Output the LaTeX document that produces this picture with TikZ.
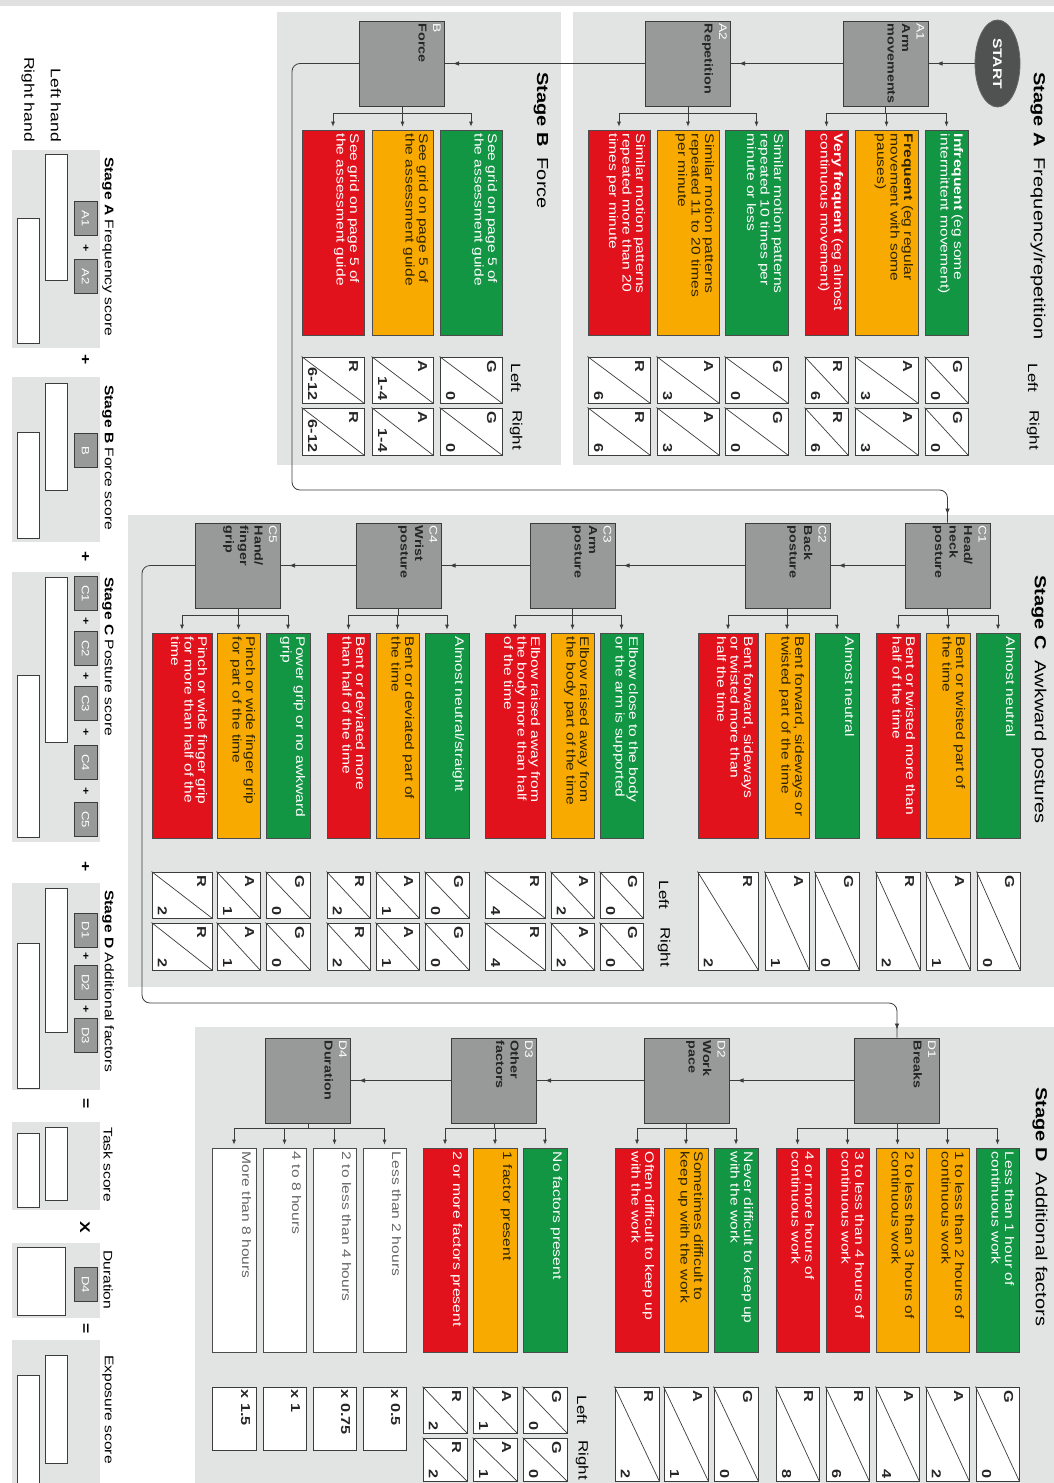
\documentclass[tikz,border=0pt]{standalone}
\usepackage{fontspec}
\setmainfont{Liberation Sans}[FakeStretch=1.25]
\usetikzlibrary{arrows.meta,decorations.markings,shapes.geometric}
\definecolor{panel}{RGB}{226,227,227}
\definecolor{cgreen}{RGB}{18,150,68}
\definecolor{camber}{RGB}{248,170,0}
\definecolor{cred}{RGB}{226,18,28}
\definecolor{gfill}{RGB}{152,154,153}
\definecolor{dline}{RGB}{60,60,60}
\definecolor{startc}{RGB}{80,82,82}
\definecolor{amtext}{RGB}{45,35,0}

% colored option box: name, fill, text colour, x1, y1, x2, y2, text
\newcommand\cbx[8]{%
  \pgfmathsetmacro\bxw{#6-#4}\pgfmathsetmacro\bxh{#7-#5}%
  \pgfmathsetmacro\bxx{(#4+#6)/2}\pgfmathsetmacro\bxy{(#5+#7)/2}%
  \node[cbox, fill=#2, minimum width=\bxw pt, minimum height=\bxh pt] (#1) at (\bxx,\bxy) {};
  \node[ctext, text=#3] (#1t) at ([xshift=-5pt,yshift=-4pt]#1.north east) {#8};
}
% grey step box: name, cx, cy, label, text
\newcommand\gb[5]{%
  \node[gbox] (#1) at (#2,#3) {};
  \node[gtext] (#1t) at ([xshift=-4pt,yshift=-3pt]#1.north east) {{\color{white}\mdseries\fontsize{11}{13}\selectfont #4}\\#5};
}
% score square: name, x1, y1, x2, y2, letter, number
\newcommand\sq[7]{%
  \pgfmathsetmacro\bxw{#4-#2}\pgfmathsetmacro\bxh{#5-#3}%
  \pgfmathsetmacro\bxx{(#2+#4)/2}\pgfmathsetmacro\bxy{(#3+#5)/2}%
  \node[sqbox, minimum width=\bxw pt, minimum height=\bxh pt] (#1) at (\bxx,\bxy) {};
  \draw[diagline] (#1.north west) -- (#1.south east);
  \node[sqtxt, anchor=west] (#1l) at ([xshift=-11pt,yshift=-4pt]#1.north east) {#6};
  \node[sqtxt, anchor=east] (#1n) at ([xshift=11pt,yshift=3pt]#1.south west) {#7};
}
% multiplier square: name, x1, y1, x2, y2, text
\newcommand\mulbox[6]{%
  \pgfmathsetmacro\bxw{#4-#2}\pgfmathsetmacro\bxh{#5-#3}%
  \pgfmathsetmacro\bxx{(#2+#4)/2}\pgfmathsetmacro\bxy{(#3+#5)/2}%
  \node[sqbox, minimum width=\bxw pt, minimum height=\bxh pt] (#1) at (\bxx,\bxy) {};
  \node[sqtxt, anchor=west] (#1l) at ([xshift=-11pt,yshift=-3pt]#1.north east) {#6};
}
% white summary box: name, x1, y1, x2, y2
\newcommand\wb[5]{%
  \pgfmathsetmacro\bxw{#4-#2}\pgfmathsetmacro\bxh{#5-#3}%
  \pgfmathsetmacro\bxx{(#2+#4)/2}\pgfmathsetmacro\bxy{(#3+#5)/2}%
  \node[sqbox, minimum width=\bxw pt, minimum height=\bxh pt] (#1) at (\bxx,\bxy) {};
}
% branch from parent to children
\newcommand\branch[3]{%
  \draw[conn] (#1.south) -- (#1.south |- 0,#2);
  \foreach \chn in {#3} {\draw[conn,dnarr] (#1.south |- 0,#2) -| (\chn.north);}
}

\begin{document}
\begin{tikzpicture}[x=1pt,y=-1pt,
  conn/.style={draw=dline, line width=0.8pt},
  harr/.style={postaction={decorate}, decoration={markings, mark=at position -8pt with {\arrow{Latex[length=6pt,width=4.5pt]}}}},
  dnarr/.style={-{Latex[length=5pt,width=4pt]}, shorten >=3pt},
  cbox/.style={rectangle, draw=black!70, line width=0.7pt, inner sep=0pt},
  ctext/.style={rotate=-90, anchor=north west, align=left, inner sep=0pt, font=\fontsize{12.5}{13.5}\selectfont},
  gbox/.style={rectangle, draw=dline, fill=gfill, line width=1pt, minimum width=85pt, minimum height=85pt, inner sep=0pt},
  gtext/.style={rotate=-90, anchor=north west, align=left, inner sep=0pt, font=\fontsize{11.5}{14.5}\selectfont\bfseries, text=black!85},
  sqbox/.style={rectangle, draw=dline, fill=white, line width=1pt, inner sep=0pt},
  diagline/.style={draw=dline, line width=0.7pt},
  sqtxt/.style={rotate=-90, inner sep=0pt, font=\fontsize{13}{15}\selectfont\bfseries, text=black!85},
  stagetitle/.style={rotate=-90, anchor=west, inner sep=0pt, font=\fontsize{16}{18}\selectfont},
  lrhead/.style={rotate=-90, inner sep=0pt, font=\fontsize{13.5}{15}\selectfont},
  stitle/.style={rotate=-90, anchor=west, inner sep=0pt, font=\fontsize{12.5}{14}\selectfont},
  minibox/.style={rectangle, draw=dline, fill=gfill, line width=0.8pt, rotate=-90, minimum width=34pt, minimum height=23pt, inner sep=0pt, text=white, font=\fontsize{10.5}{12}\selectfont},
  smallop/.style={rotate=-90, inner sep=0pt, font=\fontsize{10}{12}\selectfont\bfseries},
  bigop/.style={rotate=-90, inner sep=0pt, font=\fontsize{14}{16}\selectfont\bfseries},
]
\useasboundingbox (0,0) rectangle (1054,1483);
\fill[white] (0,0) rectangle (1054,1483);
\fill[black!12] (0,0) rectangle (1054,6);

% ---------- panels ----------
\fill[panel] (573,12) rectangle (1054,465);
\fill[panel] (277,12) rectangle (561,465);
\fill[panel] (128,515) rectangle (1054,987);
\fill[panel] (195,1027) rectangle (1054,1483);

% ---------- titles ----------
\node[stagetitle] (tA) at (1038,72) {\textbf{Stage A}\ \ Frequency/repetition};
\node[stagetitle] (tB) at (541,72) {\textbf{Stage B}\ \ Force};
\node[stagetitle] (tC) at (1039,575) {\textbf{Stage C}\ \ Awkward postures};
\node[stagetitle] (tD) at (1040,1087) {\textbf{Stage D}\ \ Additional factors};

\node[lrhead] (lA) at (1033,378) {Left};
\node[lrhead] (rA) at (1033,430) {Right};
\node[lrhead] (lB) at (516,378) {Left};
\node[lrhead] (rB) at (516,430) {Right};
\node[lrhead] (lC) at (664,895) {Left};
\node[lrhead] (rC) at (664,947) {Right};
\node[lrhead] (lD) at (582,1410) {Left};
\node[lrhead] (rD) at (582,1460) {Right};

% ---------- start and step boxes ----------
\node[ellipse, rotate=-90, minimum width=87pt, minimum height=45pt, inner sep=0pt, fill=startc, draw=black!60, line width=0.8pt, text=white, font=\fontsize{12.5}{14}\selectfont\bfseries] (start) at (997.5,63.5) {START};
\gb{A1}{885.5}{63.5}{A1}{Arm\\movements}
\gb{A2}{688}{63.5}{A2}{Repetition}
\gb{B}{402}{63.5}{B}{Force}
\gb{C1}{947.5}{565.5}{C1}{Head/\\neck\\posture}
\gb{C2}{787.5}{565.5}{C2}{Back\\posture}
\gb{C3}{572.5}{565.5}{C3}{Arm\\posture}
\gb{C4}{398.5}{565.5}{C4}{Wrist\\posture}
\gb{C5}{238}{565.5}{C5}{Hand/\\finger\\grip}
\gb{D1}{897}{1080.5}{D1}{Breaks}
\gb{D2}{686.5}{1080.5}{D2}{Work\\pace}
\gb{D3}{494}{1080.5}{D3}{Other\\factors}
\gb{D4}{308}{1080.5}{D4}{Duration}

% ---------- option boxes ----------
\cbx{a1g}{cgreen}{white}{925}{130}{968}{335}{\textbf{Infrequent} (eg some\\intermittent movement)}
\cbx{a1a}{camber}{amtext}{855}{130}{918}{335}{\textbf{Frequent} (eg regular\\movement with some\\pauses)}
\cbx{a1r}{cred}{white}{805}{130}{848}{335}{\textbf{Very frequent} (eg almost\\continuous movement)}
\cbx{a2g}{cgreen}{white}{725}{130}{788}{335}{Similar motion patterns\\repeated 10 times per\\minute or less}
\cbx{a2a}{camber}{amtext}{657}{130}{719}{335}{Similar motion patterns\\repeated 11 to 20 times\\per minute}
\cbx{a2r}{cred}{white}{588}{130}{650}{335}{Similar motion patterns\\repeated more than 20\\times per minute}
\cbx{bg}{cgreen}{white}{440}{130}{502}{335}{See grid on page 5 of\\the assessment guide}
\cbx{ba}{camber}{amtext}{372}{130}{433}{335}{See grid on page 5 of\\the assessment guide}
\cbx{br}{cred}{white}{302}{130}{364}{335}{See grid on page 5 of\\the assessment guide}

\cbx{c1g}{cgreen}{white}{976}{633}{1020}{838}{Almost neutral}
\cbx{c1a}{camber}{amtext}{926}{633}{970}{838}{Bent or twisted part of\\the time}
\cbx{c1r}{cred}{white}{876}{633}{920}{838}{Bent or twisted more than\\half of the time}
\cbx{c2g}{cgreen}{white}{815}{633}{859}{838}{Almost neutral}
\cbx{c2a}{camber}{amtext}{765}{633}{809}{838}{Bent forward, sideways or\\twisted part of the time}
\cbx{c2r}{cred}{white}{698}{633}{758}{838}{Bent forward, sideways\\or twisted more than\\half the time}
\cbx{c3g}{cgreen}{white}{600}{633}{643}{838}{Elbow close to the body\\or the arm is supported}
\cbx{c3a}{camber}{amtext}{551}{633}{594}{838}{Elbow raised away from\\the body part of the time}
\cbx{c3r}{cred}{white}{485}{633}{545}{838}{Elbow raised away from\\the body more than half\\of the time}
\cbx{c4g}{cgreen}{white}{425}{633}{469}{838}{Almost neutral/straight}
\cbx{c4a}{camber}{amtext}{376}{633}{419}{838}{Bent or deviated part of\\the time}
\cbx{c4r}{cred}{white}{327}{633}{370}{838}{Bent or deviated more\\than half of the time}
\cbx{c5g}{cgreen}{white}{266}{633}{310}{838}{Power grip or no awkward\\grip}
\cbx{c5a}{camber}{amtext}{217}{633}{260}{838}{Pinch or wide finger grip\\for part of the time}
\cbx{c5r}{cred}{white}{152}{633}{212}{838}{Pinch or wide finger grip\\for more than half of the\\time}

\cbx{d1g}{cgreen}{white}{976}{1148}{1019}{1352}{Less than 1 hour of\\continuous work}
\cbx{d1a}{camber}{amtext}{926}{1148}{969}{1352}{1 to less than 2 hours of\\continuous work}
\cbx{d1b}{camber}{amtext}{876}{1148}{919}{1352}{2 to less than 3 hours of\\continuous work}
\cbx{d1r}{cred}{white}{826}{1148}{869}{1352}{3 to less than 4 hours of\\continuous work}
\cbx{d1s}{cred}{white}{776}{1148}{819}{1352}{4 or more hours of\\continuous work}
\cbx{d2g}{cgreen}{white}{714}{1148}{758}{1352}{Never difficult to keep up\\with the work}
\cbx{d2a}{camber}{amtext}{664}{1148}{708}{1352}{Sometimes difficult to\\keep up with the work}
\cbx{d2r}{cred}{white}{615}{1148}{659}{1352}{Often difficult to keep up\\with the work}
\cbx{d3g}{cgreen}{white}{523}{1148}{567}{1352}{No factors present}
\cbx{d3a}{camber}{amtext}{473}{1148}{517}{1352}{1 factor present}
\cbx{d3r}{cred}{white}{423}{1148}{467}{1352}{2 or more factors present}
\cbx{d4a}{white}{black!60}{363}{1148}{406}{1352}{Less than 2 hours}
\cbx{d4b}{white}{black!60}{313}{1148}{356}{1352}{2 to less than 4 hours}
\cbx{d4c}{white}{black!60}{263}{1148}{306}{1352}{4 to 8 hours}
\cbx{d4d}{white}{black!60}{212}{1148}{256}{1352}{More than 8 hours}

% ---------- score squares ----------
\sq{a1gL}{925}{357}{968}{403}{G}{0}\sq{a1gR}{925}{408}{968}{455}{G}{0}
\sq{a1aL}{855}{357}{918}{403}{A}{3}\sq{a1aR}{855}{408}{918}{455}{A}{3}
\sq{a1rL}{805}{357}{848}{403}{R}{6}\sq{a1rR}{805}{408}{848}{455}{R}{6}
\sq{a2gL}{725}{357}{788}{403}{G}{0}\sq{a2gR}{725}{408}{788}{455}{G}{0}
\sq{a2aL}{657}{357}{719}{403}{A}{3}\sq{a2aR}{657}{408}{719}{455}{A}{3}
\sq{a2rL}{588}{357}{650}{403}{R}{6}\sq{a2rR}{588}{408}{650}{455}{R}{6}
\sq{bgL}{440}{357}{502}{403}{G}{0}\sq{bgR}{440}{408}{502}{455}{G}{0}
\sq{baL}{372}{357}{433}{403}{A}{1-4}\sq{baR}{372}{408}{433}{455}{A}{1-4}
\sq{brL}{302}{357}{364}{403}{R}{6-12}\sq{brR}{302}{408}{364}{455}{R}{6-12}

\sq{c1gS}{977}{872}{1020}{970}{G}{0}
\sq{c1aS}{926}{872}{970}{970}{A}{1}
\sq{c1rS}{876}{872}{920}{970}{R}{2}
\sq{c2gS}{815}{872}{859}{970}{G}{0}
\sq{c2aS}{765}{872}{809}{970}{A}{1}
\sq{c2rS}{698}{872}{758}{970}{R}{2}
\sq{c3gL}{600}{872}{643}{918}{G}{0}\sq{c3gR}{600}{923}{643}{970}{G}{0}
\sq{c3aL}{551}{872}{594}{918}{A}{2}\sq{c3aR}{551}{923}{594}{970}{A}{2}
\sq{c3rL}{485}{872}{545}{918}{R}{4}\sq{c3rR}{485}{923}{545}{970}{R}{4}
\sq{c4gL}{425}{872}{469}{918}{G}{0}\sq{c4gR}{425}{923}{469}{970}{G}{0}
\sq{c4aL}{376}{872}{419}{918}{A}{1}\sq{c4aR}{376}{923}{419}{970}{A}{1}
\sq{c4rL}{327}{872}{370}{918}{R}{2}\sq{c4rR}{327}{923}{370}{970}{R}{2}
\sq{c5gL}{266}{872}{310}{918}{G}{0}\sq{c5gR}{266}{923}{310}{970}{G}{0}
\sq{c5aL}{217}{872}{260}{918}{A}{1}\sq{c5aR}{217}{923}{260}{970}{A}{1}
\sq{c5rL}{152}{872}{212}{918}{R}{2}\sq{c5rR}{152}{923}{212}{970}{R}{2}

\sq{d1gS}{976}{1387}{1019}{1481}{G}{0}
\sq{d1aS}{926}{1387}{969}{1481}{A}{2}
\sq{d1bS}{876}{1387}{919}{1481}{A}{4}
\sq{d1rS}{826}{1387}{869}{1481}{R}{6}
\sq{d1sS}{776}{1387}{819}{1481}{R}{8}
\sq{d2gS}{714}{1387}{758}{1481}{G}{0}
\sq{d2aS}{664}{1387}{708}{1481}{A}{1}
\sq{d2rS}{615}{1387}{659}{1481}{R}{2}
\sq{d3gL}{523}{1387}{567}{1433}{G}{0}\sq{d3gR}{523}{1438}{567}{1481}{G}{0}
\sq{d3aL}{473}{1387}{517}{1433}{A}{1}\sq{d3aR}{473}{1438}{517}{1481}{A}{1}
\sq{d3rL}{423}{1387}{467}{1433}{R}{2}\sq{d3rR}{423}{1438}{467}{1481}{R}{2}
\mulbox{d4aM}{363}{1387}{406}{1450}{x 0.5}
\mulbox{d4bM}{313}{1387}{356}{1450}{x 0.75}
\mulbox{d4cM}{263}{1387}{306}{1450}{x 1}
\mulbox{d4dM}{212}{1387}{256}{1450}{x 1.5}

% ---------- connectors ----------
\coordinate (bendB) at (292,490);
\coordinate (bendC) at (142,1003);
\draw[conn,harr] (start.south) -- (A1.east);
\draw[conn,harr] (A1.west) -- (A2.east);
\draw[conn,harr] (A2.west) -- (B.east);
\draw[conn,harr,rounded corners=8pt] (B.west) -- (B.west -| bendB) -- (bendB) -- (bendB -| C1.north) -- (C1.north);
\draw[conn,harr] (C1.west) -- (C2.east);
\draw[conn,harr] (C2.west) -- (C3.east);
\draw[conn,harr] (C3.west) -- (C4.east);
\draw[conn,harr] (C4.west) -- (C5.east);
\draw[conn,harr,rounded corners=8pt] (C5.west) -- (C5.west -| bendC) -- (bendC) -- (bendC -| D1.north) -- (D1.north);
\draw[conn,harr] (D1.west) -- (D2.east);
\draw[conn,harr] (D2.west) -- (D3.east);
\draw[conn,harr] (D3.west) -- (D4.east);

\branch{A1}{113}{a1g,a1a,a1r}
\branch{A2}{113}{a2g,a2a,a2r}
\branch{B}{113}{bg,ba,br}
\branch{C1}{615}{c1g,c1a,c1r}
\branch{C2}{615}{c2g,c2a,c2r}
\branch{C3}{615}{c3g,c3a,c3r}
\branch{C4}{615}{c4g,c4a,c4r}
\branch{C5}{615}{c5g,c5a,c5r}
\branch{D1}{1128}{d1g,d1a,d1b,d1r,d1s}
\branch{D2}{1128}{d2g,d2a,d2r}
\branch{D3}{1128}{d3g,d3a,d3r}
\branch{D4}{1128}{d4a,d4b,d4c,d4d}

% ---------- summary column ----------
\node[rotate=-90, anchor=east, inner sep=0pt, font=\fontsize{14}{16}\selectfont] (lefthand) at (56,142) {Left hand};
\node[rotate=-90, anchor=east, inner sep=0pt, font=\fontsize{14}{16}\selectfont] (righthand) at (28,142) {Right hand};

\fill[panel] (12,150) rectangle (100,348);
\fill[panel] (12,377) rectangle (100,542);
\fill[panel] (12,572) rectangle (100,842);
\fill[panel] (12,883) rectangle (100,1090);
\fill[panel] (12,1122) rectangle (100,1210);
\fill[panel] (12,1243) rectangle (100,1318);
\fill[panel] (12,1340) rectangle (100,1483);

\node[stitle] (sA) at (108,157) {\textbf{Stage A} Frequency score};
\node[stitle] (sB) at (108,385) {\textbf{Stage B} Force score};
\node[stitle] (sC) at (108,577) {\textbf{Stage C} Posture score};
\node[stitle] (sD) at (108,890) {\textbf{Stage D} Additional factors};
\node[stitle] (sT) at (108,1127) {Task score};
\node[stitle] (sDu) at (108,1250) {Duration};
\node[stitle] (sE) at (108,1355) {Exposure score};

\wb{sAl}{45}{154}{67}{280}\wb{sAr}{17}{218}{39}{343}
\wb{sBl}{45}{383}{67}{490}\wb{sBr}{17}{432}{39}{538}
\wb{sCl}{45}{577}{67}{742}\wb{sCr}{17}{675}{39}{837}
\wb{sDl}{45}{888}{67}{1032}\wb{sDr}{17}{943}{39}{1088}
\wb{sTl}{45}{1127}{67}{1200}\wb{sTr}{17}{1133}{39}{1207}
\wb{sDuB}{17}{1247}{65}{1315}
\wb{sEl}{45}{1355}{67}{1463}\wb{sEr}{17}{1375}{39}{1483}

\node[minibox] (mA1) at (85.5,218.5) {A1};
\node[smallop] (pA1) at (85.5,248.5) {+};
\node[minibox] (mA2) at (85.5,276.5) {A2};
\node[minibox] (mB) at (85.5,450.5) {B};
\node[minibox] (mC1) at (85.5,593.5) {C1};
\node[smallop] (pC1) at (85.5,621) {+};
\node[minibox] (mC2) at (85.5,648.5) {C2};
\node[smallop] (pC2) at (85.5,676) {+};
\node[minibox] (mC3) at (85.5,703.5) {C3};
\node[smallop] (pC3) at (85.5,732.5) {+};
\node[minibox] (mC4) at (85.5,762.5) {C4};
\node[smallop] (pC4) at (85.5,791) {+};
\node[minibox] (mC5) at (85.5,819.5) {C5};
\node[minibox] (mD1) at (85.5,930) {D1};
\node[smallop] (pD1) at (85.5,956) {+};
\node[minibox] (mD2) at (85.5,982.5) {D2};
\node[smallop] (pD2) at (85.5,1009) {+};
\node[minibox] (mD3) at (85.5,1035.5) {D3};
\node[minibox] (mD4) at (85.5,1284.5) {D4};

\node[bigop] (o1) at (85,360) {+};
\node[bigop] (o2) at (85,557) {+};
\node[bigop] (o3) at (85,867) {+};
\node[bigop] (o4) at (85,1104) {=};
\node[bigop] (o5) at (85,1227) {X};
\node[bigop] (o6) at (85,1329) {=};
\end{tikzpicture}
\end{document}
